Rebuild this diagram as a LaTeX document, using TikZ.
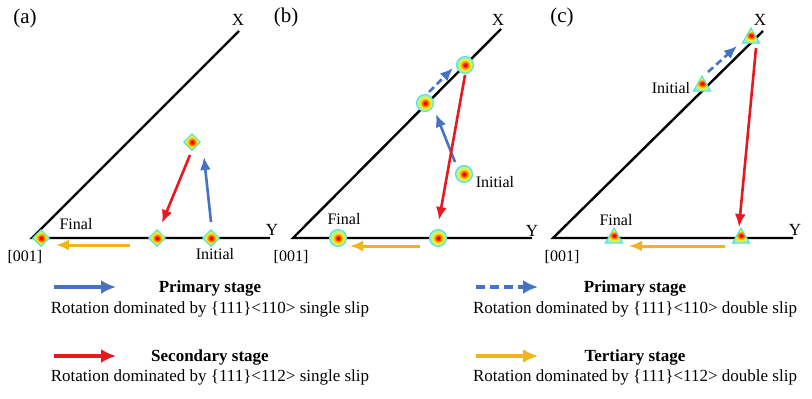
\documentclass[tikz,border=0pt]{standalone}
\usepackage{fontspec}
\setmainfont{Liberation Serif}
\usepackage{tikz}
\usetikzlibrary{arrows.meta, calc, shapes.geometric}

\definecolor{stageblue}{RGB}{68,114,196}
\definecolor{stagered}{RGB}{232,24,30}
\definecolor{stagegold}{RGB}{242,180,28}
\definecolor{spotrim}{RGB}{80,225,215}

\pgfdeclareradialshading{heatspot}{\pgfpoint{0bp}{0bp}}{%
  color(0bp)=(red!85!black); color(4bp)=(red); color(9bp)=(orange);
  color(15bp)=(yellow!90!orange); color(21bp)=(yellow!30!spotrim!70!white);
  color(27bp)=(spotrim!70!white); color(50bp)=(spotrim!70!white)}

\tikzset{
  axis/.style     = {line width=2.4pt, line join=miter},
  spotd/.style    = {diamond, draw=spotrim, line width=1pt, shade, shading=heatspot, minimum size=17pt, inner sep=0pt},
  spotc/.style    = {circle, draw=spotrim, line width=1pt, shade, shading=heatspot, minimum size=17pt, inner sep=0pt},
  spott/.style    = {regular polygon, regular polygon sides=3, draw=spotrim, line width=1pt, shade, shading=heatspot, minimum size=20pt, inner sep=0pt},
  lbl/.style      = {font=\fontsize{16}{18}\selectfont, inner sep=0pt},
  axlbl/.style    = {font=\fontsize{17}{19}\selectfont, inner sep=0pt},
  tag/.style      = {font=\fontsize{21}{24}\selectfont, inner sep=0pt},
  legtitle/.style = {font=\fontsize{17}{20}\selectfont\bfseries, inner sep=0pt},
  legtext/.style  = {font=\fontsize{17}{20}\selectfont, inner sep=0pt},
  pri/.style      = {-{Latex[length=13pt, width=11pt]}, line width=2.6pt, draw=stageblue},
  pridbl/.style   = {pri, dash pattern=on 7pt off 4pt},
  sec/.style      = {-{Latex[length=13pt, width=11pt]}, line width=2.6pt, draw=stagered},
  ter/.style      = {-{Latex[length=13pt, width=11pt]}, line width=3pt, draw=stagegold},
  legarr/.style   = {line width=3.4pt, -{Latex[length=15pt, width=14pt]}}
}

\begin{document}
\begin{tikzpicture}[x=1pt, y=-1pt]

    \useasboundingbox (0,0) rectangle (812,399);

    % ── Panel (a): single slip ─────────────────────────────────────────
    \coordinate (oA) at (32,238);
    \coordinate (xA) at (239,31);
    \coordinate (yA) at (270,238);
    \draw[axis] (xA) -- (oA) -- (yA);

    \node[tag]   (tagA)  at (25,18)   {(a)};
    \node[axlbl] (xlA)   at (238,20)  {X};
    \node[axlbl] (ylA)   at (272,230) {Y};
    \node[lbl]   (ctrA)  at (25,257)  {[001]};
    \node[lbl]   (finlA) at (76,224)  {Final};
    \node[lbl]   (inilA) at (215,254) {Initial};

    \node[spotd] (finA) at (41,238)  {};
    \node[spotd] (midA) at (157,238) {};
    \node[spotd] (iniA) at (211,238) {};
    \node[spotd] (topA) at (192,142) {};

    \draw[pri] ($(iniA)+(0,-16)$)  -- ($(topA)+(12,15)$);
    \draw[sec] ($(topA)+(-2,13)$)  -- ($(midA)+(5,-15)$);
    \draw[ter] ($(midA)+(-27,7)$)  -- ($(finA)+(15,7)$);

    % ── Panel (b): single to double slip ───────────────────────────────
    \coordinate (oB) at (293,238);
    \coordinate (xB) at (501,29);
    \coordinate (yB) at (532,238);
    \draw[axis] (xB) -- (oB) -- (yB);

    \node[tag]   (tagB)  at (286,17)  {(b)};
    \node[axlbl] (xlB)   at (498,20)  {X};
    \node[axlbl] (ylB)   at (532,231) {Y};
    \node[lbl]   (ctrB)  at (291,257) {[001]};
    \node[lbl]   (finlB) at (344,219) {Final};
    \node[lbl]   (inilB) at (495,182) {Initial};

    \node[spotc] (finB)  at (338,238) {};
    \node[spotc] (midB)  at (438,238) {};
    \node[spotc] (lineB) at (425,103) {};
    \node[spotc] (topB)  at (465,65)  {};
    \node[spotc] (iniB)  at (464,174) {};

    \draw[pri]    ($(iniB)+(-9,-12)$) -- ($(lineB)+(11,11)$);
    \draw[pridbl] ($(lineB)+(4,-11)$) -- ($(topB)+(-12,3)$);
    \draw[sec]    ($(topB)+(0,10)$)   -- ($(midB)+(1,-18)$);
    \draw[ter]    ($(midB)+(-18,8)$)  -- ($(finB)+(12,8)$);

    % ── Panel (c): double slip ─────────────────────────────────────────
    \coordinate (oC) at (553,238);
    \coordinate (xC) at (763,31);
    \coordinate (yC) at (793,238);
    \draw[axis] (xC) -- (oC) -- (yC);

    \node[tag]   (tagC)  at (562,17)  {(c)};
    \node[axlbl] (xlC)   at (760,20)  {X};
    \node[axlbl] (ylC)   at (795,230) {Y};
    \node[lbl]   (ctrC)  at (562,257) {[001]};
    \node[lbl]   (finlC) at (616,220) {Final};
    \node[lbl]   (inilC) at (671,88)  {Initial};

    \node[spott] (finC) at (614,238) {};
    \node[spott] (midC) at (741,238) {};
    \node[spott] (iniC) at (702,86)  {};
    \node[spott] (topC) at (751,38)  {};

    \draw[pridbl] ($(iniC)+(6,-14)$) -- ($(topC)+(-14,8)$);
    \draw[sec]    ($(topC)+(5,10)$)  -- ($(midC)+(-2,-11)$);
    \draw[ter]    ($(midC)+(-16,8)$) -- ($(finC)+(15,8)$);

    % ── Legend ─────────────────────────────────────────────────────────
    \coordinate (lgA1) at (54,287);   \coordinate (lgA2) at (116,287);
    \coordinate (lgB1) at (54,356);   \coordinate (lgB2) at (116,356);
    \coordinate (lgC1) at (476,287);  \coordinate (lgC2) at (538,287);
    \coordinate (lgD1) at (476,356);  \coordinate (lgD2) at (538,356);

    \draw[legarr, draw=stageblue] (lgA1) -- (lgA2);
    \draw[legarr, draw=stagered]  (lgB1) -- (lgB2);
    \draw[legarr, draw=stageblue, dash pattern=on 9pt off 5pt] (lgC1) -- (lgC2);
    \draw[legarr, draw=stagegold] (lgD1) -- (lgD2);

    \node[legtitle] (priS)  at (210,288) {Primary stage};
    \node[legtext]  (priST) at (210,309) {Rotation dominated by \{111\}<110> single slip};
    \node[legtitle] (secS)  at (210,357) {Secondary stage};
    \node[legtext]  (secST) at (210,377) {Rotation dominated by \{111\}<112> single slip};
    \node[legtitle] (priD)  at (635,288) {Primary stage};
    \node[legtext]  (priDT) at (635,309) {Rotation dominated by \{111\}<110> double slip};
    \node[legtitle] (terD)  at (635,357) {Tertiary stage};
    \node[legtext]  (terDT) at (635,377) {Rotation dominated by \{111\}<112> double slip};

\end{tikzpicture}
\end{document}
